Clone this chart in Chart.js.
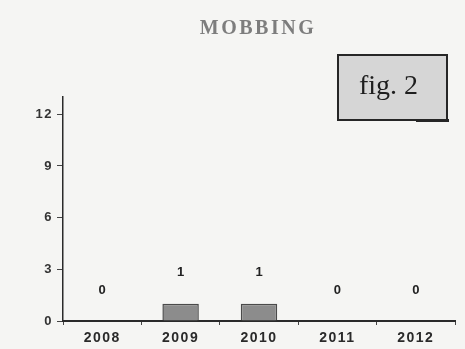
<!DOCTYPE html>
<html>
<head>
<meta charset="utf-8">
<title>MOBBING</title>
<script src="https://cdn.jsdelivr.net/npm/chart.js@4"></script>
<style>
  html, body { margin: 0; padding: 0; background: #f5f5f3; }
  #wrap { position: relative; width: 465px; height: 349px; }
</style>
</head>
<body>
<div id="wrap"><canvas id="chart" width="465" height="349"></canvas></div>
<script>
// Yearly counts of mobbing cases
const years = ['2008', '2009', '2010', '2011', '2012'];
const cases = [0, 1, 1, 0, 0];
const yTicks = [0, 3, 6, 9, 12];
const yMax = 13;
const chartTitle = 'MOBBING';
const figLabel = 'fig. 2';

// Title and figure tag drawn on the canvas
const decorPlugin = {
  id: 'decor',
  beforeDraw(chart) {
    const ctx = chart.ctx;
    ctx.save();
    ctx.fillStyle = '#f5f5f3';
    ctx.fillRect(0, 0, chart.width, chart.height);
    ctx.restore();
    ctx.letterSpacing = '1.5px';
  },
  afterDraw(chart) {
    const ctx = chart.ctx;
    ctx.letterSpacing = '0px';
    ctx.save();
    // title
    ctx.letterSpacing = '2.5px';
    ctx.font = 'bold 20px "Liberation Serif", serif';
    ctx.fillStyle = '#7d7d7d';
    ctx.textAlign = 'center';
    ctx.textBaseline = 'middle';
    ctx.fillText(chartTitle, 258, 29);
    ctx.letterSpacing = '0px';
    // figure tag box
    const bx = 338, by = 55, bw = 109, bh = 65;
    ctx.fillStyle = '#d6d6d6';
    ctx.fillRect(bx, by, bw, bh);
    ctx.strokeStyle = '#262626';
    ctx.lineWidth = 2;
    ctx.strokeRect(bx, by, bw, bh);
    ctx.fillStyle = '#262626';
    ctx.fillRect(bx + 78, by + bh - 1, bw - 76, 3);
    ctx.font = '28px "Liberation Serif", serif';
    ctx.fillStyle = '#1e1e1e';
    ctx.fillText(figLabel, bx + bw / 2 - 4, by + bh / 2 - 1);
    ctx.restore();
  }
};

// Value labels above each bar
const valueLabels = {
  id: 'valueLabels',
  afterDatasetsDraw(chart) {
    const ctx = chart.ctx;
    const meta = chart.getDatasetMeta(0);
    ctx.save();
    ctx.letterSpacing = '0px';
    ctx.font = 'bold 13px "Liberation Sans", Arial, sans-serif';
    ctx.fillStyle = '#222';
    ctx.textAlign = 'center';
    ctx.textBaseline = 'middle';
    meta.data.forEach((bar, i) => {
      const v = chart.data.datasets[0].data[i];
      ctx.fillText(String(v), bar.x, bar.y - 31);
    });
    ctx.restore();
  }
};

new Chart(document.getElementById('chart'), {
  type: 'bar',
  data: {
    labels: years,
    datasets: [{
      data: cases,
      backgroundColor: '#8c8c8c',
      borderColor: '#4a4a4a',
      borderWidth: 1.5,
      categoryPercentage: 0.93,
      barPercentage: 0.5
    }]
  },
  options: {
    responsive: false,
    animation: false,
    layout: { padding: { left: 0, right: 10, top: 97, bottom: 0 } },
    plugins: {
      legend: { display: false },
      title: { display: false },
      tooltip: { enabled: false }
    },
    scales: {
      x: {
        offset: true,
        border: { display: true, color: '#2a2a2a', width: 2 },
        grid: { display: true, drawOnChartArea: false, drawTicks: true, tickLength: 4, offset: true, color: '#444', lineWidth: 1 },
        ticks: {
          padding: 5,
          color: '#2a2a2a',
          font: { family: '"Liberation Sans", Arial, sans-serif', size: 14, weight: 'bold' }
        },
        afterFit(scale) { scale.height = 28; }
      },
      y: {
        min: 0,
        max: yMax,
        border: { display: true, color: '#2a2a2a', width: 1.5 },
        grid: { display: true, drawOnChartArea: false, drawTicks: true, tickLength: 6, color: '#444', lineWidth: 1 },
        afterBuildTicks(scale) { scale.ticks = yTicks.map(v => ({ value: v })); },
        ticks: {
          padding: 4,
          color: '#333',
          font: { family: '"Liberation Sans", Arial, sans-serif', size: 13, weight: 'bold' }
        },
        afterFit(scale) { scale.width = 63; }
      }
    }
  },
  plugins: [decorPlugin, valueLabels]
});
</script>
</body>
</html>
